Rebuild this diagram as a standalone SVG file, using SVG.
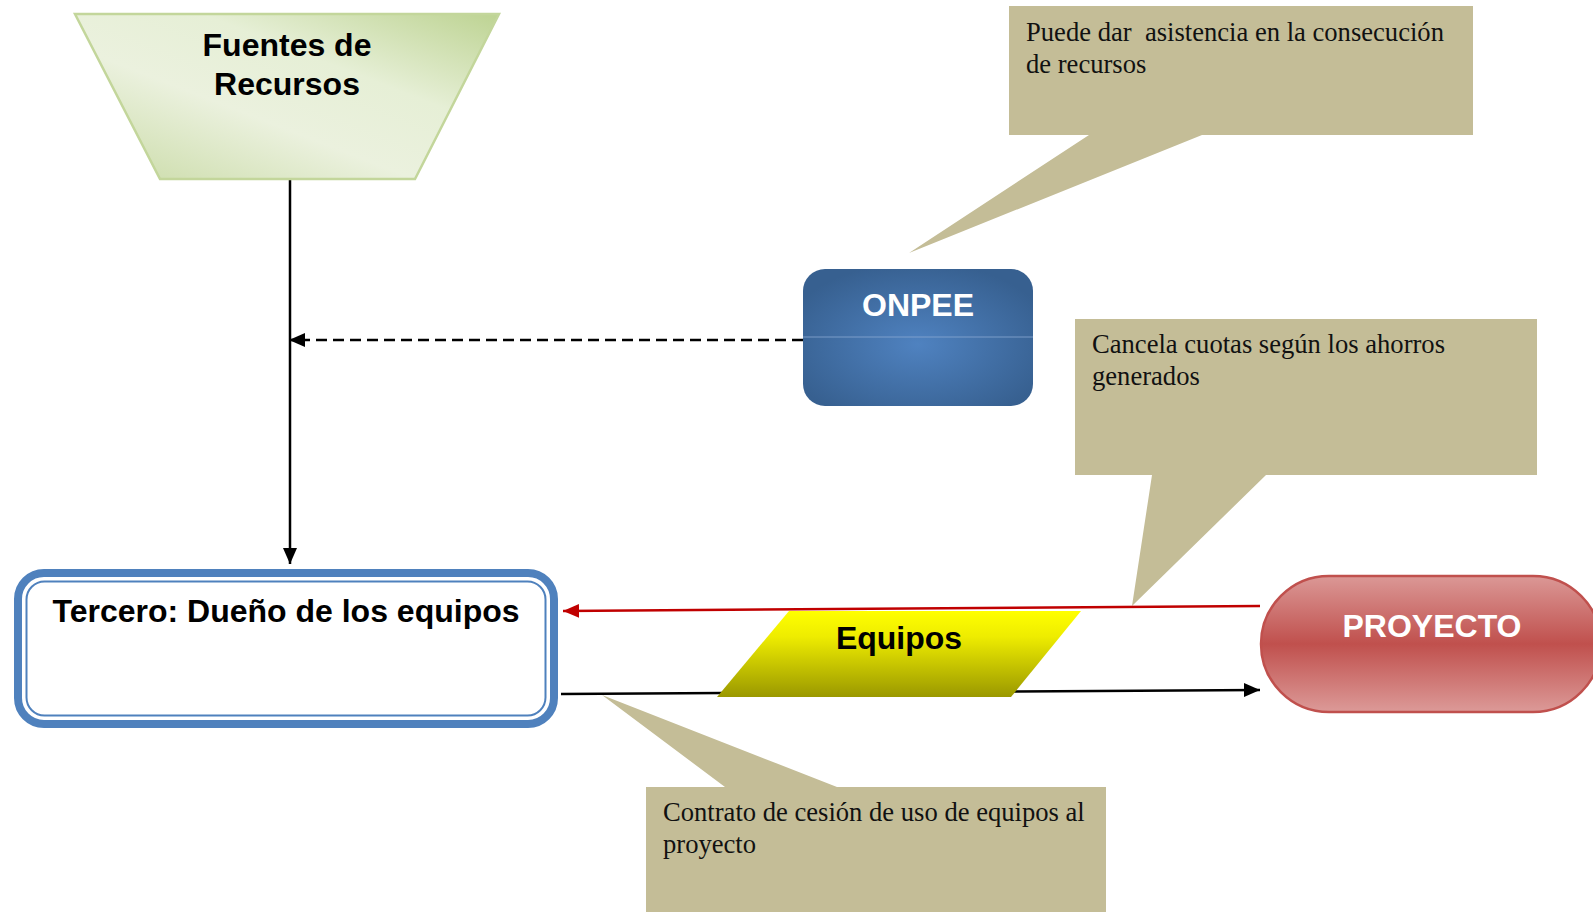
<svg xmlns="http://www.w3.org/2000/svg" width="1593" height="912" viewBox="0 0 1593 912">
<style>
.lbl{font-family:"Liberation Sans",Arial,sans-serif;font-weight:bold;font-size:32px;text-anchor:middle}
.note{font-family:"Liberation Serif","Times New Roman",serif;font-size:26.6px;fill:#111;white-space:pre}
.callout{fill:#c4bd97}
.conn{fill:none;stroke-width:2.5}
</style>
<defs>
<linearGradient id="gGreen" x1="1" y1="0" x2="0" y2="1">
<stop offset="0" stop-color="#bdd392"/>
<stop offset="0.35" stop-color="#e6efd6"/>
<stop offset="0.6" stop-color="#ebf1de"/>
<stop offset="1" stop-color="#c8daa4"/>
</linearGradient>
<radialGradient id="gBlue" cx="0.5" cy="0.55" r="0.6">
<stop offset="0" stop-color="#4f82c0"/>
<stop offset="1" stop-color="#376090"/>
</radialGradient>
<linearGradient id="gRed" x1="0" y1="0" x2="0" y2="1">
<stop offset="0" stop-color="#db9896"/>
<stop offset="0.5" stop-color="#c0504d"/>
<stop offset="1" stop-color="#dc9a98"/>
</linearGradient>
<linearGradient id="gYellow" x1="0" y1="0" x2="0" y2="1">
<stop offset="0" stop-color="#ffff00"/>
<stop offset="0.3" stop-color="#eeec00"/>
<stop offset="1" stop-color="#9a9800"/>
</linearGradient>
<marker id="ahBlack" markerUnits="userSpaceOnUse" markerWidth="17" markerHeight="15" refX="16" refY="7" orient="auto">
<path d="M0,0 L16,7 L0,14 z" fill="#000"/>
</marker>
<marker id="ahRed" markerUnits="userSpaceOnUse" markerWidth="17" markerHeight="15" refX="16" refY="7" orient="auto">
<path d="M0,0 L16,7 L0,14 z" fill="#c00000"/>
</marker>
</defs>
<rect width="1593" height="912" fill="#fff"/>

<g id="callout-onpee">
<path class="callout" d="M1009,6 H1473 V135 H1202 L909,253 L1089,135 H1009 Z"/>
<text class="note" x="1026" y="41">Puede dar  asistencia en la consecución</text>
<text class="note" x="1026" y="73">de recursos</text>
</g>
<g id="callout-proyecto">
<path class="callout" d="M1075,319 H1537 V475 H1266 L1132,606 L1152,475 H1075 Z"/>
<text class="note" x="1092" y="353">Cancela cuotas según los ahorros</text>
<text class="note" x="1092" y="385">generados</text>
</g>
<g id="callout-contrato">
<path class="callout" d="M646,787 H725 L602,695 L837,787 H1106 V912 H646 Z"/>
<text class="note" x="663" y="821">Contrato de cesión de uso de equipos al</text>
<text class="note" x="663" y="853">proyecto</text>
</g>

<g id="connectors">
<line class="conn" x1="290" y1="179" x2="290" y2="564" stroke="#000" stroke-width="2" marker-end="url(#ahBlack)"/>
<line class="conn" x1="803" y1="340" x2="289" y2="340" stroke="#000" stroke-dasharray="11,6" marker-end="url(#ahBlack)"/>
<line class="conn" x1="1260" y1="606" x2="563" y2="611" stroke="#c00000" marker-end="url(#ahRed)"/>
<line class="conn" x1="561" y1="694" x2="1260" y2="690" stroke="#000" marker-end="url(#ahBlack)"/>
</g>

<g id="node-fuentes">
<polygon points="75,14 499,14 415,179 160,179" fill="url(#gGreen)" stroke="#c3d69b" stroke-width="2.5"/>
<text class="lbl" x="287" y="56">Fuentes de</text>
<text class="lbl" x="287" y="95">Recursos</text>
</g>

<g id="node-onpee">
<rect x="803" y="269" width="230" height="137" rx="22" fill="url(#gBlue)"/>
<line x1="803" y1="337" x2="1033" y2="337" stroke="#8aa9d2" stroke-width="1" opacity="0.8"/>
<text class="lbl" x="918" y="316" fill="#fff">ONPEE</text>
</g>

<g id="node-tercero">
<rect x="18" y="573" width="536" height="151" rx="26" fill="#fff" stroke="#4f81bd" stroke-width="8"/>
<rect x="26.5" y="581.5" width="519" height="134" rx="18" fill="none" stroke="#4f81bd" stroke-width="2"/>
<text class="lbl" x="286" y="622">Tercero: Dueño de los equipos</text>
</g>

<g id="node-equipos">
<polygon points="789,611 1081,611 1011,697 717,697" fill="url(#gYellow)"/>
<text class="lbl" x="899" y="649">Equipos</text>
</g>

<g id="node-proyecto">
<rect x="1261" y="576" width="340" height="136" rx="68" fill="url(#gRed)" stroke="#c0504d" stroke-width="2.5"/>
<text class="lbl" x="1432" y="637" fill="#fff">PROYECTO</text>
</g>
</svg>
